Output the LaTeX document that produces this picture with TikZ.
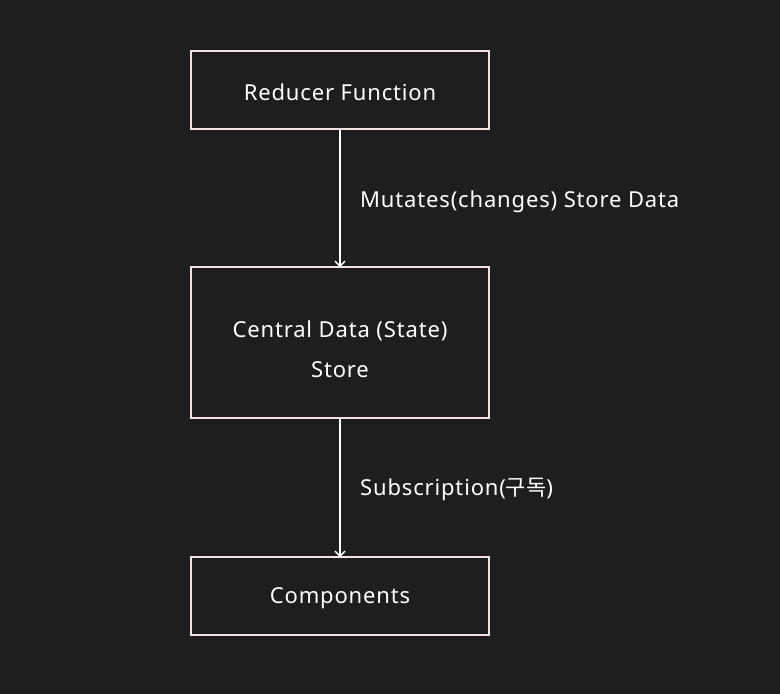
\documentclass[tikz,border=0pt]{standalone}
\usepackage{fontspec}
\setmainfont{Noto Sans}[LetterSpace=3.8]
\newfontfamily\krfont{Noto Sans CJK KR}
\usetikzlibrary{arrows.meta}
\definecolor{bg}{HTML}{1E1E1E}
\definecolor{edge}{HTML}{F2E4E4}
\begin{document}
\begin{tikzpicture}[x=1pt,y=-1pt,
  box/.style={draw=edge,line width=1.6pt,fill=bg},
  lbl/.style={text=white,font=\fontsize{22}{40}\selectfont,inner sep=0pt},
  conn/.style={draw=white,line width=1.4pt,-{Straight Barb[length=5pt,width=10pt,line width=1.4pt]}}]
\fill[bg] (0,0) rectangle (780,694);
\useasboundingbox (0,0) rectangle (780,694);
\draw[box] (191,51) rectangle (489,129);
\node[lbl] (r) at (340,92) {Reducer Function};
\coordinate (rb) at (340,129);
\draw[box] (191,267) rectangle (489,418);
\node[lbl,align=center] (c) at (340,349) {Central Data (State)\\Store};
\coordinate (ct) at (340,267);
\coordinate (cb) at (340,418);
\draw[box] (191,557) rectangle (489,635);
\node[lbl] (p) at (340,598) {Components};
\coordinate (pt) at (340,557);
\draw[conn] (rb) -- (ct);
\draw[conn] (cb) -- (pt);
\node[lbl,anchor=west] (m) at (360,202) {Mutates(changes) Store Data};
\node[lbl,anchor=west] (s) at (360,489) {Subscription({\krfont 구독})};
\end{tikzpicture}
\end{document}
